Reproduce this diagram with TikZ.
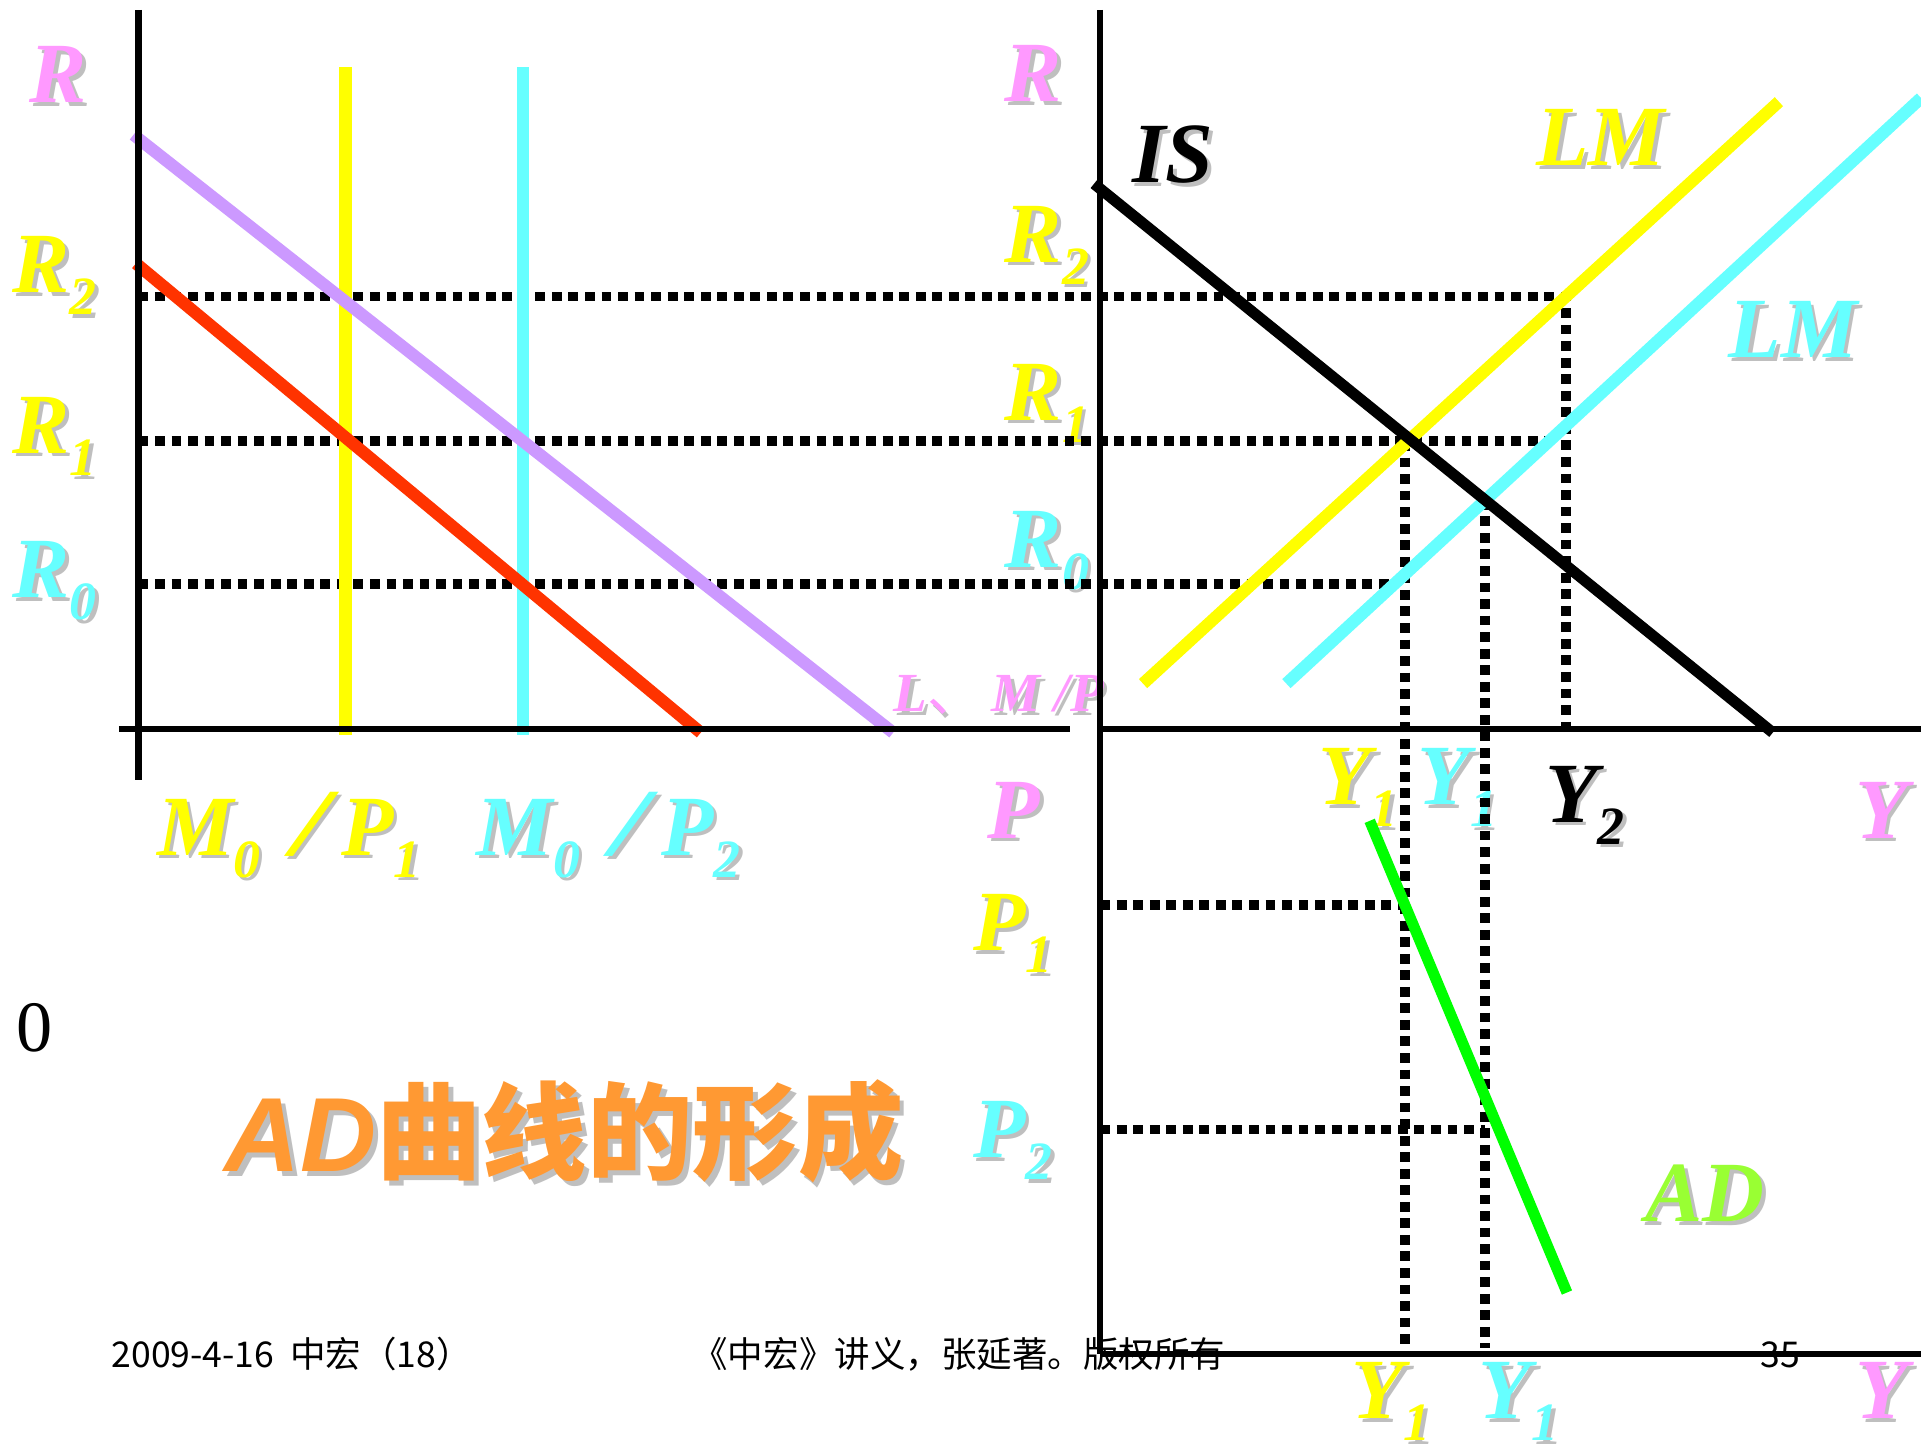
\documentclass[tikz,border=0pt]{standalone}
\usepackage{fontspec}
\newfontfamily\tnr{Liberation Serif}
\newfontfamily\arl{Liberation Sans}
\newfontfamily\cjk{Noto Sans CJK SC}
\definecolor{pinkc}{HTML}{FF99FF}
\definecolor{yel}{HTML}{FFFF00}
\definecolor{cyn}{HTML}{66FFFF}
\definecolor{purp}{HTML}{CC99FF}
\definecolor{redc}{HTML}{FF3300}
\definecolor{grn}{HTML}{00FF00}
\definecolor{adg}{HTML}{99FF33}
\definecolor{org}{HTML}{FF9933}
\definecolor{shd}{HTML}{BFBFBF}
\newcommand{\sbs}[1]{\raisebox{-18pt}{\fontsize{44}{44}\selectfont #1}}
\newcommand{\slsh}{\hspace{26pt}\scalebox{1.55}[1.12]{/}\hspace{10pt}}
\newcommand{\shl}[5]{%
  \node[lbl,text=shd] (#1-s) at (#3+3,#4+3) {#5};
  \node[lbl,text=#2] (#1) at (#3,#4) {#5};}
\begin{document}
\begin{tikzpicture}[x=1pt,y=-1pt,
  lbl/.style={inner sep=0pt,anchor=base west,font=\tnr\bfseries\itshape\fontsize{70}{70}\selectfont},
  smalllbl/.style={inner sep=0pt,anchor=base west,font=\tnr\bfseries\itshape\fontsize{45}{45}\selectfont},
  axis/.style={line width=5pt,black},
  curve/.style={line width=10pt},
  dotl/.style={line width=8pt,black,dash pattern=on 8pt off 5.5pt}]
\useasboundingbox (0,0) rectangle (1568,1179);
\fill[white] (0,0) rectangle (1568,1179);

% ---------- labels ----------
\node[smalllbl,text=shd] (lmp-s) at (732,584) {L{\cjk\upshape\mdseries 、}\hspace{8pt}M /P};
\node[smalllbl,text=pinkc] (lmp) at (729,581) {L{\cjk\upshape\mdseries 、}\hspace{8pt}M /P};

\shl{Rl}{pinkc}{24}{84}{R}
\shl{R2l}{yel}{10}{239}{R\sbs{2}}
\shl{R1l}{yel}{10}{370}{R\sbs{1}}
\shl{R0l}{cyn}{10}{488}{R\sbs{0}}
\shl{Rr}{pinkc}{820}{83}{R}
\shl{ISl}{black}{924}{149}{IS}
\shl{R2r}{yel}{820}{214}{R\sbs{2}}
\shl{R1r}{yel}{820}{343}{R\sbs{1}}
\shl{R0r}{cyn}{820}{463}{R\sbs{0}}
\shl{LMy}{yel}{1254}{135}{LM}
\shl{LMc}{cyn}{1411}{292}{LM}
\shl{MP1}{yel}{128}{698}{M\sbs{0}\slsh P\sbs{1}}
\shl{MP2}{cyn}{389}{698}{M\sbs{0}\slsh P\sbs{2}}
\shl{Pl}{pinkc}{806}{684}{P}
\shl{P1l}{yel}{794}{776}{P\sbs{1}}
\shl{P2l}{cyn}{794}{945}{P\sbs{2}}
\shl{Y1a}{yel}{1076}{657}{Y\sbs{1}}
\shl{Y1b}{cyn}{1157}{657}{Y\sbs{1}}
\shl{Y2}{black}{1261}{671}{Y\sbs{2}}
\shl{Yu}{pinkc}{1514}{684}{Y}
\shl{ADl}{adg}{1343}{997}{AD}
\shl{Y1c}{yel}{1103}{1158}{Y\sbs{1}}
\shl{Y1d}{cyn}{1207}{1158}{Y\sbs{1}}
\shl{Yd}{pinkc}{1514}{1158}{Y}

\node[inner sep=0pt,anchor=base west,font=\tnr\fontsize{59}{59}\selectfont] (zero) at (13,858) {0};

\node[inner sep=0pt,anchor=base west,text=shd,font=\fontsize{86}{86}\selectfont] (ttl-s) at (187,960)
  {{\arl\bfseries\itshape AD}{\cjk\upshape\bfseries 曲线的形成}};
\node[inner sep=0pt,anchor=base west,text=org,font=\fontsize{86}{86}\selectfont] (ttl) at (183,956)
  {{\arl\bfseries\itshape AD}{\cjk\upshape\bfseries 曲线的形成}};

\node[inner sep=0pt,anchor=base west,font=\cjk\fontsize{29}{29}\selectfont] (ft1) at (91,1116) {2009-4-16\ \ 中宏（18）};
\node[inner sep=0pt,anchor=base west,font=\cjk\fontsize{29}{29}\selectfont] (ft2) at (565,1116) {《中宏》讲义，张延著。版权所有};
\node[inner sep=0pt,anchor=base west,font=\cjk\fontsize{29}{29}\selectfont] (ft3) at (1437,1116) {35};

% ---------- coordinates ----------
\coordinate (Lt) at (113,8);   \coordinate (Lb) at (113,637);
\coordinate (Lhl) at (97,595); \coordinate (Lhr) at (873,595);
\coordinate (Rt) at (898,8);   \coordinate (Rb) at (898,1105);
\coordinate (Rhl) at (898,595); \coordinate (Rhr) at (1568,595);
\coordinate (Rll) at (898,1105); \coordinate (Rlr) at (1568,1105);
\coordinate (ms1t) at (282,55); \coordinate (ms1b) at (282,600);
\coordinate (ms2t) at (427,55); \coordinate (ms2b) at (427,600);
\coordinate (pa) at (109,110); \coordinate (pb) at (729,598);
\coordinate (ra) at (111,215); \coordinate (rb) at (572,598);
\coordinate (isa) at (893,150); \coordinate (isb) at (1447,598);
\coordinate (lma) at (933,558); \coordinate (lmb) at (1452,83);
\coordinate (lnca) at (1050,558); \coordinate (lncb) at (1568,80);
\coordinate (ada) at (1118,670); \coordinate (adb) at (1279,1055);

\coordinate (r2a) at (113,242); \coordinate (r2b) at (1278,242); \coordinate (r2c) at (1278,595);
\coordinate (r1a) at (113,360); \coordinate (r1b) at (1265,360);
\coordinate (r0a) at (113,477); \coordinate (r0b) at (1137,477);
\coordinate (v1a) at (1147,360); \coordinate (v1b) at (1147,1100);
\coordinate (v2a) at (1212,408); \coordinate (v2b) at (1212,1100);
\coordinate (p1a) at (898,739); \coordinate (p1b) at (1147,739);
\coordinate (p2a) at (898,922); \coordinate (p2b) at (1212,922);

% ---------- dotted guides ----------
\draw[dotl] (r2a) -- (r2b) -- (r2c);
\draw[dotl] (r1a) -- (r1b);
\draw[dotl] (r0a) -- (r0b);
\draw[dotl] (v1a) -- (v1b);
\draw[dotl] (v2a) -- (v2b);
\draw[dotl] (p1a) -- (p1b);
\draw[dotl] (p2a) -- (p2b);

% ---------- curves ----------
\draw[curve,yel] (ms1t) -- (ms1b);
\draw[curve,cyn] (ms2t) -- (ms2b);
\draw[curve,purp] (pa) -- (pb);
\draw[curve,redc] (ra) -- (rb);
\draw[curve,yel] (lma) -- (lmb);
\draw[curve,cyn] (lnca) -- (lncb);
\draw[line width=9pt,black] (isa) -- (isb);
\draw[line width=9pt,grn] (ada) -- (adb);

% ---------- axes ----------
\draw[axis] (Lt) -- (Lb);
\draw[axis] (Lhl) -- (Lhr);
\draw[axis] (Rt) -- (Rb);
\draw[axis] (Rhl) -- (Rhr);
\draw[axis] (Rll) -- (Rlr);
\end{tikzpicture}
\end{document}
